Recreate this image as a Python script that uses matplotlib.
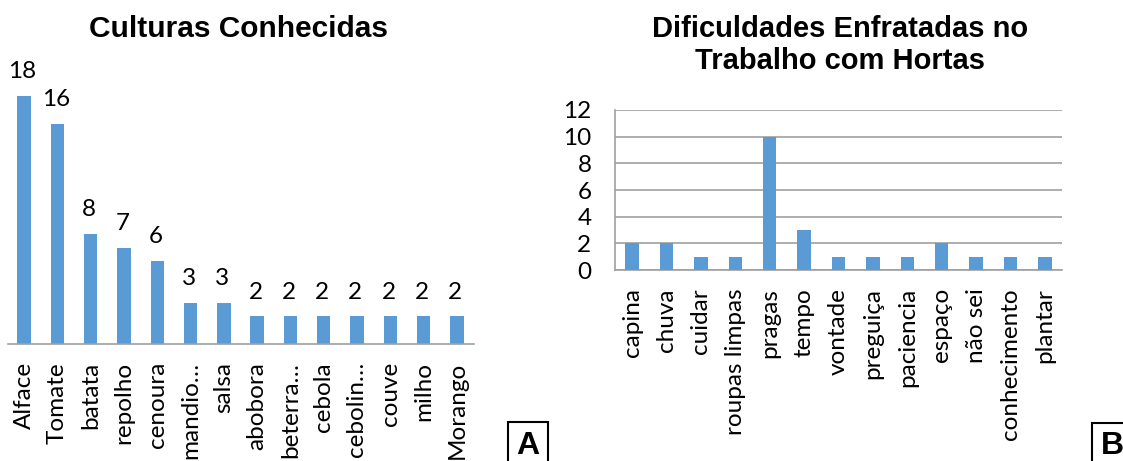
import matplotlib
matplotlib.use("Agg")
import matplotlib.pyplot as plt
from matplotlib.patches import Rectangle

# Chart A: known crops
culturas = ["Alface", "Tomate", "batata", "repolho", "cenoura", "mandio…", "salsa",
            "abobora", "beterra…", "cebola", "cebolin…", "couve", "milho", "Morango"]
culturas_qtd = [18, 16, 8, 7, 6, 3, 3, 2, 2, 2, 2, 2, 2, 2]

# Chart B: difficulties working with gardens
dificuldades = ["capina", "chuva", "cuidar", "roupas limpas", "pragas", "tempo", "vontade",
                "preguiça", "paciencia", "espaço", "não sei", "conhecimento", "plantar"]
dificuldades_qtd = [2, 2, 1, 1, 10, 3, 1, 1, 1, 2, 1, 1, 1]
b_yticks = [0, 2, 4, 6, 8, 10, 12]

BAR = "#5B9BD5"
AXIS = "#A0A0A0"
LABEL_FONT = ["Lato", "DejaVu Sans"]
TITLE_FONT = ["Liberation Sans", "DejaVu Sans"]
LABEL_SIZE = 17.5

W, H = 1123, 461
fig = plt.figure(figsize=(W / 100, H / 100), dpi=100)

def frac_box(left, top, right, bottom):
    return [left / W, 1 - bottom / H, (right - left) / W, (bottom - top) / H]

# ---- Chart A ----
axA = fig.add_axes(frac_box(7.5, 96, 473.5, 344))
xa = range(len(culturas))
axA.bar(xa, culturas_qtd, width=0.4, color=BAR)
axA.set_xlim(-0.5, len(culturas) - 0.5)
axA.set_ylim(0, 18)
for s in ["top", "right", "left"]:
    axA.spines[s].set_visible(False)
axA.spines["bottom"].set_color(AXIS)
axA.spines["bottom"].set_linewidth(1.2)
axA.set_yticks([])
axA.set_xticks(list(xa))
axA.set_xticklabels(culturas, rotation=90, family=LABEL_FONT, fontsize=LABEL_SIZE)
axA.tick_params(axis="x", length=0, pad=13)
for x, v in zip(xa, culturas_qtd):
    axA.text(x - 0.05, v + 1.3, str(v), ha="center", va="baseline",
             family=LABEL_FONT, fontsize=LABEL_SIZE, clip_on=False)
fig.text(238 / W, 1 - 29 / H, "Culturas Conhecidas", ha="center", va="center",
         family=TITLE_FONT, fontweight="bold", fontsize=21.5)

# ---- Chart B ----
axB = fig.add_axes(frac_box(615, 110, 1062, 270))
xb = range(len(dificuldades))
axB.bar(xb, dificuldades_qtd, width=0.39, color=BAR, zorder=3)
axB.set_xlim(-0.5, len(dificuldades) - 0.5)
axB.set_ylim(0, 12)
axB.set_yticks(b_yticks)
axB.set_yticklabels([str(t) for t in b_yticks], family=LABEL_FONT, fontsize=LABEL_SIZE)
axB.grid(axis="y", color=AXIS, linewidth=1.2, zorder=0)
for s in ["top", "right"]:
    axB.spines[s].set_visible(False)
for s in ["left", "bottom"]:
    axB.spines[s].set_color(AXIS)
    axB.spines[s].set_linewidth(1.2)
axB.tick_params(axis="y", length=0, pad=17)
axB.set_xticks(list(xb))
axB.set_xticklabels(dificuldades, rotation=90, family=LABEL_FONT, fontsize=LABEL_SIZE)
axB.tick_params(axis="x", length=0, pad=13)
fig.text(840 / W, 1 - 45 / H, "Dificuldades Enfratadas no\nTrabalho com Hortas",
         ha="center", va="center", family=TITLE_FONT, fontweight="bold",
         fontsize=21, linespacing=1.15)

# ---- Panel letters ----
for (x0, y0, x1, letter) in [(508, 422, 548, "A"), (1092, 423, 1132, "B")]:
    fig.patches.append(Rectangle((x0 / W, 1 - 470 / H), (x1 - x0) / W, (470 - y0) / H,
                                 transform=fig.transFigure, fill=False,
                                 edgecolor="black", linewidth=1.5))
    fig.text((x0 + 20) / W, 1 - 446 / H, letter, ha="center", va="center",
             family=TITLE_FONT, fontweight="bold", fontsize=23)

fig.savefig("out.png", dpi=100)
